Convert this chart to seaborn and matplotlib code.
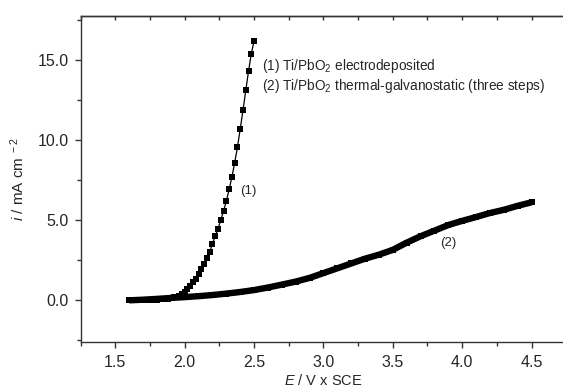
import pandas as pd
import matplotlib
matplotlib.use("Agg")
import matplotlib.pyplot as plt
import seaborn as sns
from matplotlib.ticker import MultipleLocator, FormatStrFormatter, NullFormatter

# curve (1): Ti/PbO2 electrodeposited
e1 = [1.60, 1.62, 1.64, 1.66, 1.68, 1.70, 1.72, 1.74, 1.76, 1.78,
      1.80, 1.82, 1.84, 1.86, 1.88, 1.90, 1.92, 1.94, 1.96, 1.98,
      2.00, 2.02, 2.04, 2.06, 2.08, 2.10, 2.12, 2.14, 2.16, 2.18,
      2.20, 2.22, 2.24, 2.26, 2.28, 2.30, 2.32, 2.34, 2.36, 2.38,
      2.40, 2.42, 2.44, 2.46, 2.48, 2.50]
i1 = [0.00, 0.01, 0.01, 0.02, 0.02, 0.03, 0.03, 0.04, 0.04, 0.05,
      0.05, 0.06, 0.07, 0.09, 0.11, 0.14, 0.18, 0.23, 0.30, 0.40,
      0.52, 0.70, 0.89, 1.14, 1.36, 1.67, 1.98, 2.29, 2.67, 3.02,
      3.54, 4.00, 4.48, 5.00, 5.58, 6.20, 6.92, 7.69, 8.58, 9.56,
      10.69, 11.86, 13.10, 14.30, 15.40, 16.20]

# curve (2): Ti/PbO2 thermal-galvanostatic (three steps)
e2 = [1.6, 1.7, 1.8, 1.9, 2.0, 2.1, 2.2, 2.3, 2.4, 2.5,
      2.6, 2.7, 2.8, 2.9, 3.0, 3.1, 3.2, 3.3, 3.4, 3.5,
      3.6, 3.7, 3.8, 3.9, 4.0, 4.1, 4.2, 4.3, 4.4, 4.5]
i2 = [0.00, 0.04, 0.09, 0.15, 0.20, 0.26, 0.33, 0.42, 0.52, 0.64,
      0.80, 0.98, 1.17, 1.40, 1.70, 2.00, 2.30, 2.60, 2.85, 3.15,
      3.60, 4.00, 4.35, 4.70, 4.96, 5.20, 5.45, 5.65, 5.90, 6.12]

df1 = pd.DataFrame({"E": e1, "i": i1})
df2 = pd.DataFrame({"E": e2, "i": i2})

sns.set_style("ticks")
plt.rcParams["font.family"] = ["Liberation Sans", "DejaVu Sans"]
plt.rcParams["mathtext.fontset"] = "custom"
plt.rcParams["mathtext.rm"] = "Liberation Sans"
plt.rcParams["mathtext.it"] = "Liberation Sans:italic"

fig = plt.figure(figsize=(5.63, 3.92), dpi=100)
ax = fig.add_axes([0.1433, 0.1276, 0.8624, 0.8316])

sns.lineplot(data=df2, x="E", y="i", ax=ax, color="black", linewidth=4.6,
             marker="s", markersize=4, markeredgewidth=0, solid_capstyle="butt")
sns.lineplot(data=df1, x="E", y="i", ax=ax, color="black", linewidth=0.9,
             marker="s", markersize=4.2, markeredgewidth=0)

ax.set_xlim(1.25, 4.75)
ax.set_ylim(-2.6, 17.75)
ax.xaxis.set_major_locator(MultipleLocator(0.5))
ax.xaxis.set_minor_locator(MultipleLocator(0.25))
ax.yaxis.set_major_locator(MultipleLocator(5))
ax.yaxis.set_minor_locator(MultipleLocator(2.5))
ax.xaxis.set_major_formatter(FormatStrFormatter("%.1f"))
ax.yaxis.set_major_formatter(FormatStrFormatter("%.1f"))

for s in ["left", "bottom", "top"]:
    ax.spines[s].set_linewidth(1.0)
    ax.spines[s].set_color("#333333")
ax.spines["right"].set_visible(False)

ax.tick_params(axis="both", which="major", direction="out", length=4.5,
               width=1.0, color="#333333", labelsize=11.5, pad=4)
ax.tick_params(axis="both", which="minor", direction="out", length=3,
               width=1.0, color="#333333")
ax.tick_params(axis="x", which="major", pad=5)

# inward ticks along the top edge, no labels
top = ax.secondary_xaxis("top")
top.xaxis.set_major_locator(MultipleLocator(0.25))
top.xaxis.set_major_formatter(NullFormatter())
top.tick_params(direction="in", length=3, width=1.0, color="#333333")
top.spines["top"].set_linewidth(1.0)
top.spines["top"].set_color("#333333")

ax.set_xlabel("$\\it{E}$ / V x SCE", fontsize=10.5, labelpad=2)
ax.set_ylabel("$\\it{i}$ / mA cm$^{\\ -2}$", fontsize=11, labelpad=8)

ax.text(2.56, 14.6, "(1) Ti/PbO$_2$ electrodeposited", fontsize=9.8, va="center")
ax.text(2.56, 13.4, "(2) Ti/PbO$_2$ thermal-galvanostatic (three steps)",
        fontsize=9.8, va="center")
ax.text(2.40, 6.85, "(1)", fontsize=9.5, va="center")
ax.text(3.84, 3.55, "(2)", fontsize=9.5, va="center")

fig.savefig("out.png", dpi=100)
